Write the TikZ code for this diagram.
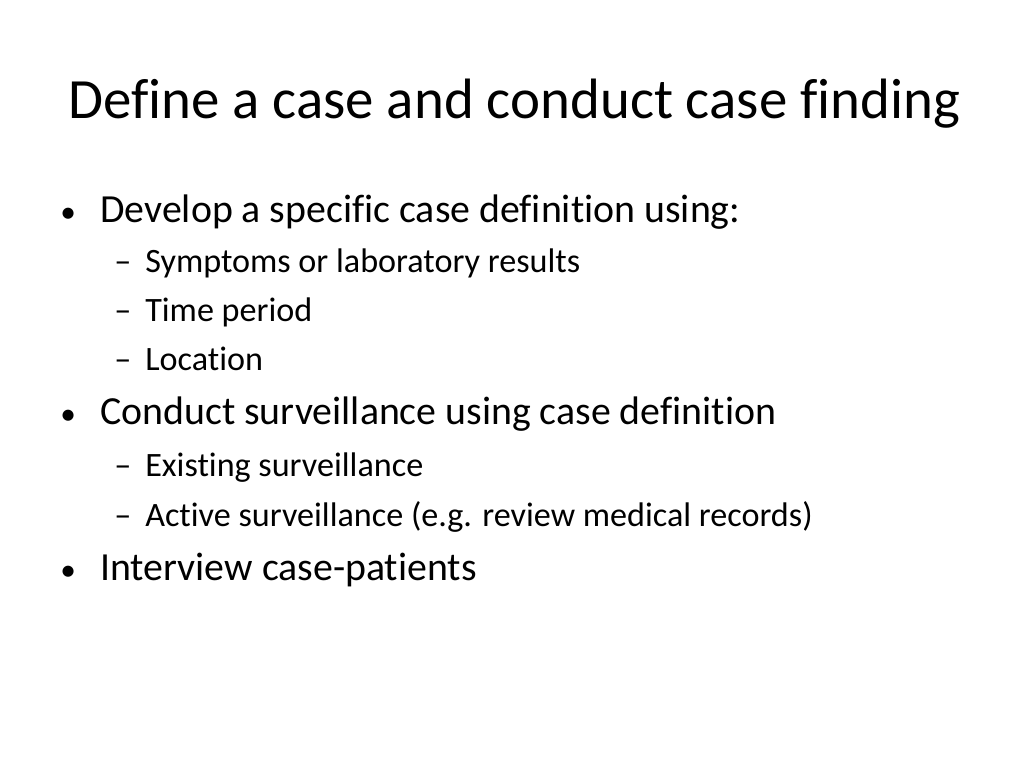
\documentclass[tikz,border=0pt]{standalone}
\usepackage{fontspec}
\setmainfont{Carlito}[RawFeature={-liga}]
\usetikzlibrary{positioning}
\begin{document}
\begin{tikzpicture}[x=0.703pt, y=-0.703pt,
title/.style={anchor=base west, inner sep=0pt, font=\fontsize{40}{48}\selectfont},
lvlone/.style={anchor=base west, inner sep=0pt, font=\fontsize{28}{34}\selectfont},
lvltwo/.style={anchor=base west, inner sep=0pt, font=\fontsize{24}{29}\selectfont},
dotmark/.style={anchor=base west, inner sep=0pt, font=\fontsize{22}{26}\selectfont}]
\useasboundingbox (0,0) rectangle (1024,768);
%title
\node[title] (head) at (68,118) {Define a case and conduct case finding};
%first bullet
\node[dotmark] (dotA) at (60,222) {•};
\node[lvlone] (defn) at (100,222) {Develop a specific case definition using:};
\foreach \txt/\yy [count=\i] in {Symptoms or laboratory results/272, Time period/321, Location/370}{
  \node[lvltwo] (dashA\i) at (114,\yy) {–};
  \node[lvltwo] (subA\i) at (145,\yy) {\txt};
}
%second bullet
\node[dotmark] (dotB) at (60,424) {•};
\node[lvlone] (surv) at (100,424) {Conduct surveillance using case definition};
\foreach \txt/\yy [count=\i] in {Existing surveillance/476, Active surveillance (e.g. review medical records)/526}{
  \node[lvltwo] (dashB\i) at (114,\yy) {–};
  \node[lvltwo] (subB\i) at (145,\yy) {\txt};
}
%third bullet
\node[dotmark] (dotC) at (60,580) {•};
\node[lvlone] (intv) at (100,580) {Interview case-patients};
\end{tikzpicture}
\end{document}
